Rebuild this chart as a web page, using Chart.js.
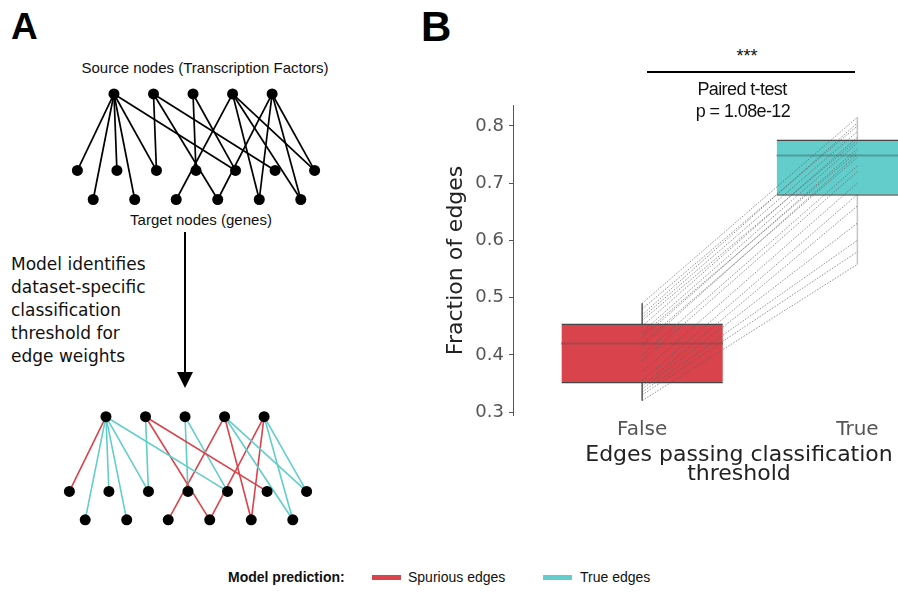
<!DOCTYPE html>
<html>
<head>
<meta charset="utf-8">
<script src="https://cdn.jsdelivr.net/npm/chart.js@4.4.1/dist/chart.umd.min.js"></script>
<style>
  html, body { margin: 0; padding: 0; background: #fff; }
  body { width: 898px; height: 596px; position: relative; overflow: hidden; font-family: "DejaVu Sans", sans-serif; color: #111; }
  .abs { position: absolute; white-space: nowrap; }
  canvas { position: absolute; }
  .panel { font-family: "Liberation Sans", Arial, sans-serif; font-weight: bold; color: #000; line-height: 1; }
  .small { font-family: "Liberation Sans", Arial, sans-serif; font-size: 15px; line-height: 16px; transform: translateX(-50%); }
  .note { font-family: "Liberation Sans", Arial, sans-serif; font-size: 18px; line-height: 22px; letter-spacing: -0.6px; transform: translateX(-50%); }
  .swatch { position: absolute; height: 5px; width: 29px; }
</style>
</head>
<body>

<div class="abs panel" style="left:11px; top:8px; font-size:37px;">A</div>
<div class="abs panel" style="left:421px; top:6px; font-size:42px;">B</div>

<div class="abs small" style="left:205px; top:60px;">Source nodes (Transcription Factors)</div>
<div class="abs small" style="left:201px; top:212px;">Target nodes (genes)</div>

<div class="abs" style="left:11px; top:253px; font-size:17px; line-height:23px;">Model identifies<br>dataset-specific<br>classification<br>threshold for<br>edge weights</div>

<svg class="abs" style="left:170px; top:228px;" width="30" height="165">
  <line x1="15" y1="4" x2="15" y2="148" stroke="#000" stroke-width="2"/>
  <polygon points="7,144 23,144 15,160" fill="#000"/>
</svg>

<canvas id="netTop" width="268" height="141" style="left:62px; top:77px;"></canvas>
<canvas id="netBottom" width="268" height="138" style="left:54px; top:400px;"></canvas>

<div class="abs" style="left:228px; top:569px; font-family:'Liberation Sans', Arial, sans-serif; font-size:14px; font-weight:bold;">Model prediction:</div>
<div class="swatch" style="left:372px; top:575px; background:#d9434b;"></div>
<div class="abs" style="left:408px; top:569px; font-family:'Liberation Sans', Arial, sans-serif; font-size:14px;">Spurious edges</div>
<div class="swatch" style="left:543px; top:575px; background:#62cdcb;"></div>
<div class="abs" style="left:580px; top:569px; font-family:'Liberation Sans', Arial, sans-serif; font-size:14px;">True edges</div>

<canvas id="fracChart" width="522" height="396" style="left:443px; top:90px;"></canvas>

<div class="abs" style="left:747px; top:46px; font-family:'Liberation Sans', Arial, sans-serif; font-size:18px; transform:translateX(-50%);">***</div>
<div class="abs" style="left:647px; top:71px; width:208px; height:2px; background:#000;"></div>
<div class="abs note" style="left:742px; top:78px;">Paired t-test</div>
<div class="abs note" style="left:743px; top:100px;">p = 1.08e-12</div>

<script>
// ---- panel A: toy regulatory network ----
const sourceNodes = ['TF1', 'TF2', 'TF3', 'TF4', 'TF5'];
const targetNodes = ['G1', 'G2', 'G3', 'G4', 'G5', 'G6', 'G7', 'G8', 'G9', 'G10', 'G11', 'G12', 'G13'];
const edgeFrom = [0, 0, 0, 0, 0, 0, 1, 1, 1, 2, 2, 3, 3, 3, 3, 4, 4, 4, 4];
const edgeTo   = [0, 1, 2, 3, 4, 8, 4, 7, 10, 6, 8, 5, 9, 12, 11, 7, 9, 12, 11];
const edgeTrue = [0, 1, 1, 1, 1, 1, 1, 0, 0, 1, 1, 0, 0, 1, 1, 0, 0, 1, 1];

// ---- panel B: fraction of edges per dataset ----
const groupLabels = ['False', 'True'];
const fracFalse = [0.49, 0.48, 0.47, 0.465, 0.46, 0.45, 0.44, 0.435, 0.43, 0.42, 0.415, 0.40, 0.39, 0.37, 0.355, 0.345, 0.34, 0.335, 0.33, 0.32];
const fracTrue  = [0.815, 0.80, 0.805, 0.79, 0.775, 0.78, 0.77, 0.755, 0.76, 0.745, 0.75, 0.73, 0.72, 0.70, 0.68, 0.66, 0.63, 0.60, 0.58, 0.558];
const boxLow = [0.35, 0.678];
const boxMedian = [0.42, 0.748];
const boxHigh = [0.455, 0.776];
const whiskerLow = [0.32, 0.558];
const whiskerHigh = [0.49, 0.815];
const yTicks = [0.3, 0.4, 0.5, 0.6, 0.7, 0.8];

const RED = '#d9434b';
const TEAL = '#62cdcb';

// layout of the bipartite drawing
function sourceX(j) { return 1.85 + 2 * j; }
function geneX(i) { return i % 2 === 0 ? i : 0.8 + 1.05 * (i - 1); }
function geneRow(i) { return i % 2 === 0 ? 1 : 1.38; }

function drawNetwork(id, colored) {
    const datasets = [];
    const nodes = sourceNodes.map((_, j) => ({ x: sourceX(j), y: 0 }))
        .concat(targetNodes.map((_, i) => ({ x: geneX(i), y: geneRow(i) })));
    datasets.push({
        data: nodes,
        pointRadius: 5.5,
        pointBackgroundColor: '#000',
        pointBorderWidth: 0,
        clip: false,
        order: 0
    });
    edgeFrom.forEach((s, k) => {
        const t = edgeTo[k];
        datasets.push({
            data: [{ x: sourceX(s), y: 0 }, { x: geneX(t), y: geneRow(t) }],
            showLine: true,
            borderColor: colored ? (edgeTrue[k] ? TEAL : RED) : '#000',
            borderWidth: colored ? 1.6 : 1.7,
            pointRadius: 0,
            clip: false,
            order: 1
        });
    });
    new Chart(document.getElementById(id), {
        type: 'scatter',
        data: { datasets: datasets },
        options: {
            responsive: false,
            animation: false,
            events: [],
            layout: { padding: 0 },
            plugins: { legend: { display: false }, tooltip: { enabled: false } },
            scales: {
                x: { type: 'linear', display: false, min: -0.5, max: 12.5 },
                y: { type: 'linear', display: false, reverse: true, min: -0.15, max: 1.55 }
            }
        }
    });
}

drawNetwork('netTop', false);
drawNetwork('netBottom', true);

// panel B
const boxWidth = 0.75;
const fracDatasets = [];

fracFalse.forEach((v, i) => {
    fracDatasets.push({
        type: 'line',
        data: [{ x: 0, y: v }, { x: 1, y: fracTrue[i] }],
        borderColor: 'rgba(90,90,90,0.75)',
        borderWidth: 0.9,
        borderDash: [1.5, 1.5],
        pointRadius: 0,
        order: 0
    });
});

const medianColors = ['#a9464c', '#4f9c9a'];
const whiskerColors = ['#555', '#c4c4c4'];
groupLabels.forEach((_, g) => {
    fracDatasets.push({
        type: 'line',
        data: [{ x: g - boxWidth / 2, y: boxMedian[g] }, { x: g + boxWidth / 2, y: boxMedian[g] }],
        borderColor: medianColors[g],
        borderWidth: 2,
        pointRadius: 0,
        order: 1
    });
    fracDatasets.push({
        type: 'line',
        data: [{ x: g, y: whiskerLow[g] }, { x: g, y: whiskerHigh[g] }],
        borderColor: whiskerColors[g],
        borderWidth: 1.5,
        pointRadius: 0,
        order: 3
    });
});

fracDatasets.push({
    type: 'bar',
    data: groupLabels.map((_, g) => ({ x: g, y: [boxLow[g], boxHigh[g]] })),
    backgroundColor: [RED, TEAL],
    borderColor: '#454545',
    borderWidth: { top: 1.5, bottom: 1.5, left: 0, right: 0 },
    borderSkipped: false,
    barPercentage: boxWidth,
    categoryPercentage: 1,
    order: 2
});

new Chart(document.getElementById('fracChart'), {
    type: 'bar',
    data: { datasets: fracDatasets },
    options: {
        responsive: false,
        animation: false,
        events: [],
        layout: { padding: { top: 10, right: 0, bottom: 0, left: 0 } },
        plugins: { legend: { display: false }, tooltip: { enabled: false } },
        scales: {
            x: {
                type: 'linear',
                offset: false,
                min: -0.6,
                max: 1.5,
                grid: { display: false, drawTicks: false },
                border: { display: false },
                afterBuildTicks: s => { s.ticks = groupLabels.map((_, g) => ({ value: g })); },
                afterFit: s => { s.height = 71; },
                ticks: {
                    maxRotation: 0,
                    padding: 3,
                    color: '#555',
                    font: { family: 'DejaVu Sans', size: 20 },
                    callback: v => groupLabels[v]
                },
                title: {
                    display: true,
                    text: ['Edges passing classification', 'threshold'],
                    color: '#222',
                    font: { family: 'DejaVu Sans', size: 22, lineHeight: 0.88 },
                    padding: { top: 0, bottom: 2 }
                }
            },
            y: {
                min: 0.295,
                max: 0.835,
                afterBuildTicks: s => { s.ticks = yTicks.map(v => ({ value: v })); },
                afterFit: s => { s.width = 70; },
                border: { display: true, color: '#555', width: 1 },
                grid: { drawOnChartArea: false, drawTicks: true, tickLength: 4, color: '#555' },
                ticks: {
                    padding: 5,
                    color: '#555',
                    font: { family: 'DejaVu Sans', size: 18 },
                    callback: v => v.toFixed(1)
                },
                title: {
                    display: true,
                    text: 'Fraction of edges',
                    color: '#222',
                    font: { family: 'DejaVu Sans', size: 22 },
                    padding: { top: 0, bottom: 0 }
                }
            }
        }
    }
});
</script>
</body>
</html>
